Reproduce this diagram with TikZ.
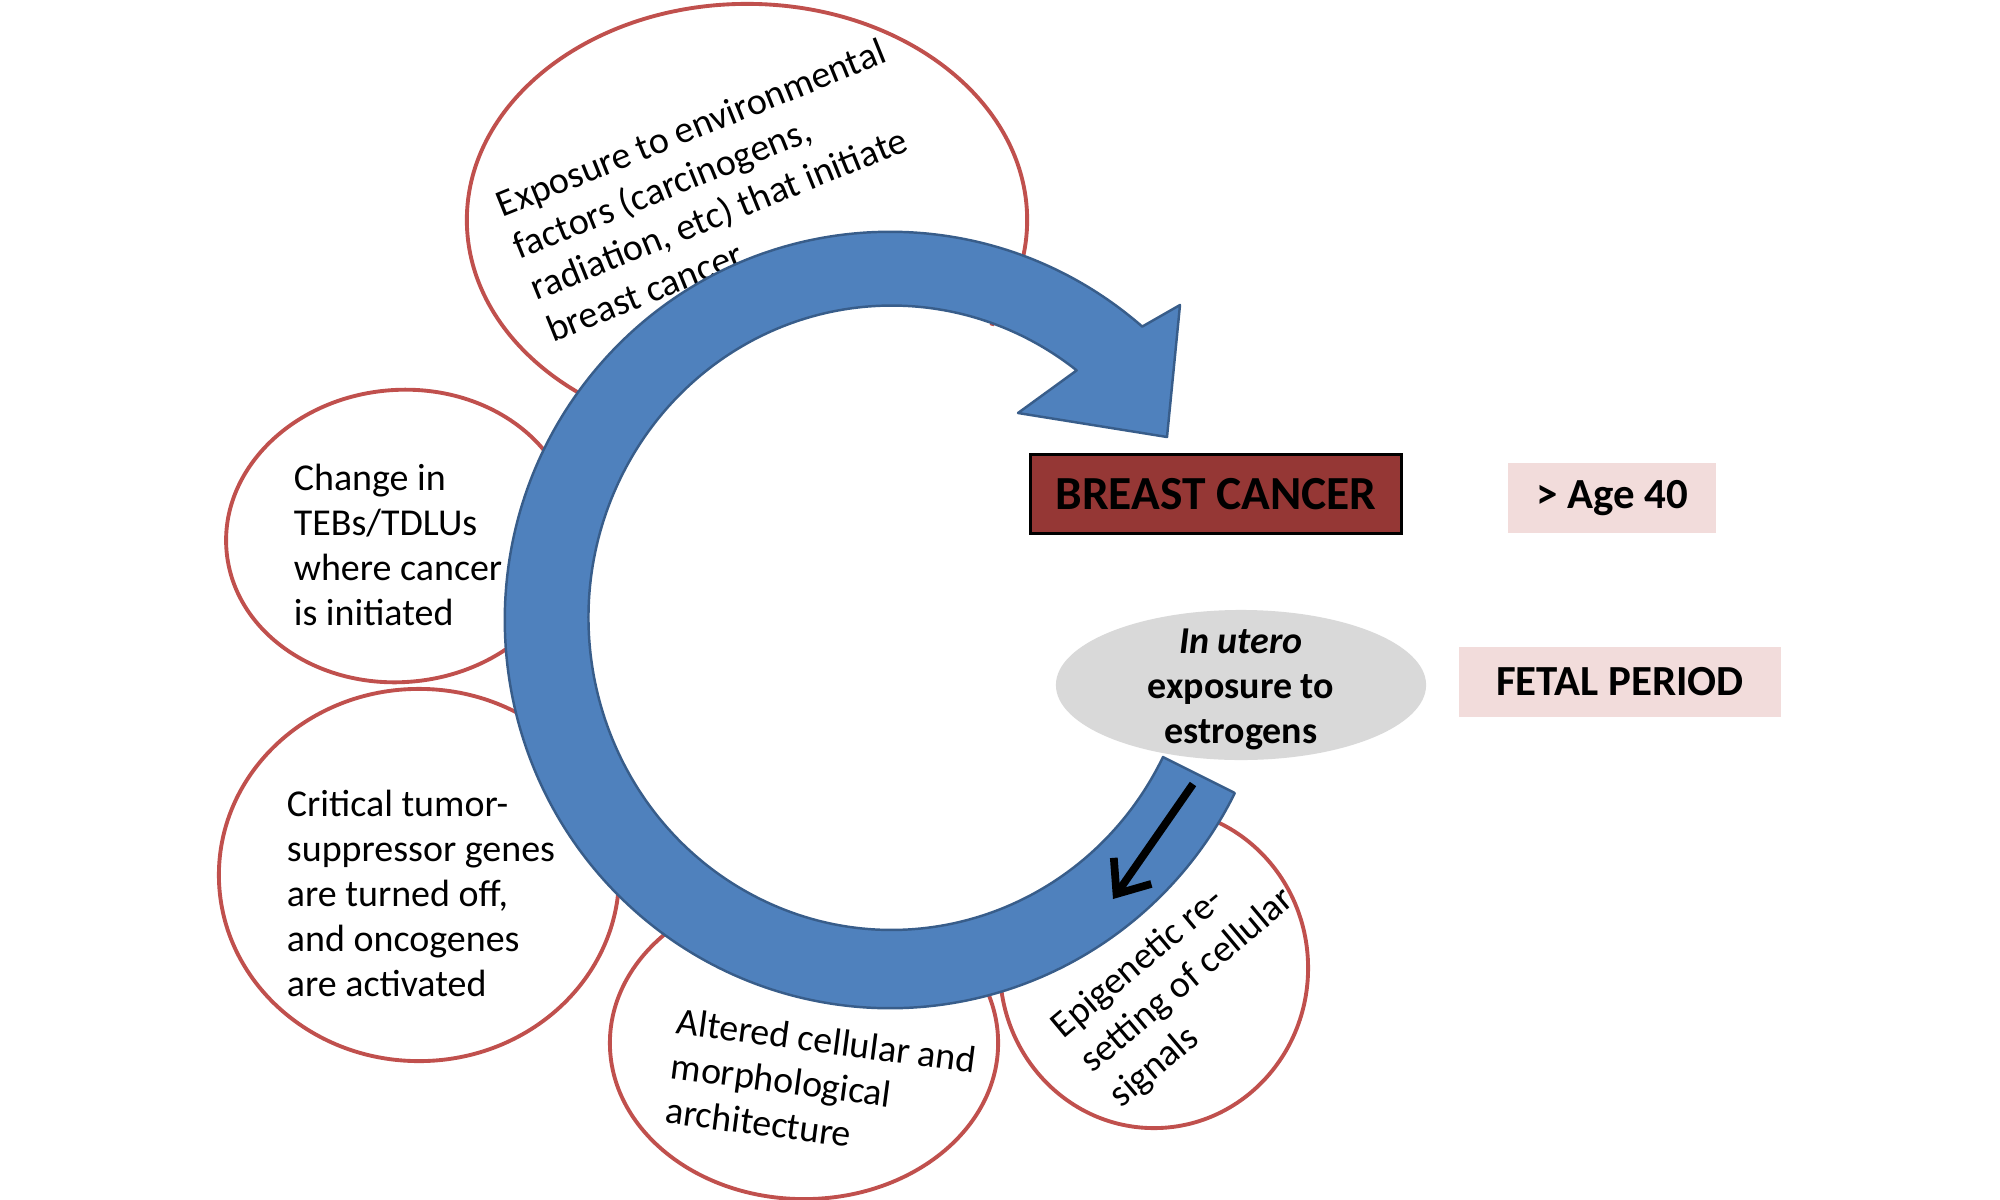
\documentclass[tikz,border=0pt]{standalone}
\usepackage{fontspec}
\setmainfont{Carlito}
\usetikzlibrary{shapes.geometric, arrows.meta, calc}
\definecolor{arrowblue}{HTML}{4F81BD}
\definecolor{arrowedge}{HTML}{385D8A}
\definecolor{ringred}{HTML}{C0504D}
\definecolor{cancerred}{HTML}{953735}
\definecolor{pinkbg}{HTML}{F2DCDB}
\definecolor{greybg}{HTML}{D9D9D9}
\begin{document}
\begin{tikzpicture}[x=0.01cm, y=-0.01cm,
  bubble/.style={ellipse, draw=ringred, line width=1.1pt, inner sep=0pt},
  bubbletext/.style={align=left, font=\fontsize{10.8}{12.8}\selectfont, inner sep=0pt},
  agebox/.style={fill=pinkbg, inner sep=0pt, font=\fontsize{12.2}{14}\bfseries\selectfont}]
\useasboundingbox (0,0) rectangle (2000,1200);

% bubbles
\node[bubble, minimum width=5.6cm, minimum height=4.32cm] (exposureBubble) at (747,220) {};
\node[bubble, minimum width=3.48cm, minimum height=2.92cm, rotate=5] (tebBubble) at (400,536) {};
\node[bubble, minimum width=4.0cm, minimum height=3.72cm] (geneBubble) at (419,875) {};
\node[bubble, minimum width=3.88cm, minimum height=3.12cm] (archBubble) at (804,1043) {};
\node[bubble, minimum width=3.08cm, minimum height=3.2cm] (epiBubble) at (1154,968) {};

% bubble texts
\node[bubbletext, rotate=22] (exposureText) at (716,190) {Exposure to environmental\\factors (carcinogens,\\radiation, etc) that initiate\\breast cancer};
\node[bubbletext] (tebText) at (398,545) {Change in\\TEBs/TDLUs\\where cancer\\is initiated};
\node[bubbletext] (geneText) at (421,893) {Critical tumor-\\suppressor genes\\are turned off,\\and oncogenes\\are activated};
\node[bubbletext, rotate=-7.5] (archText) at (821,1085) {Altered cellular and\\morphological\\architecture};
\node[bubbletext, rotate=40] (epiText) at (1188,981) {Epigenetic re-\\setting of cellular\\signals};

% white interior of the cycle
\fill[white] (890,620) ellipse [x radius=3.03cm, y radius=3.12cm];

% circular arrow
\filldraw[fill=arrowblue, draw=arrowedge, line width=0.7pt, line join=round]
  (1233,792) -- (1163,757)
  arc[start angle=-26.5, end angle=-307.6, x radius=3.03cm, y radius=3.12cm]
  -- (1018,413) -- (1167,437) -- (1180,305)
  -- ($(890,620)+(49.1:3.85cm and 3.88cm)$)
  arc[start angle=-310.9, end angle=-26.5, x radius=3.85cm, y radius=3.88cm]
  -- cycle;

% small black arrow
\coordinate (epiArrowStart) at (1193,784);
\coordinate (epiArrowEnd) at (1113,899);
\draw[line width=2.2pt, -{Straight Barb[length=8pt, width=13pt, line width=2.2pt]}] (epiArrowStart) -- (epiArrowEnd);

% in utero ellipse
\node[ellipse, fill=greybg, minimum width=3.7cm, minimum height=1.5cm, inner sep=0pt] (uteroBubble) at (1241,685) {};
\node[align=center, inner sep=0pt, font=\fontsize{10.8}{12.8}\bfseries\selectfont] (uteroText) at (1241,689) {\textit{In utero}\\exposure to\\estrogens};

% boxes
\node[draw=black, line width=0.8pt, fill=cancerred, minimum width=3.71cm, minimum height=0.79cm, inner sep=0pt, font=\fontsize{13.5}{16}\bfseries\selectfont] (cancerBox) at (1216,494) {BREAST CANCER};
\node[agebox, minimum width=2.08cm, minimum height=0.70cm] (ageBox) at (1612,498) {> Age 40};
\node[agebox, minimum width=3.22cm, minimum height=0.70cm] (fetalBox) at (1620,682) {FETAL PERIOD};
\end{tikzpicture}
\end{document}
